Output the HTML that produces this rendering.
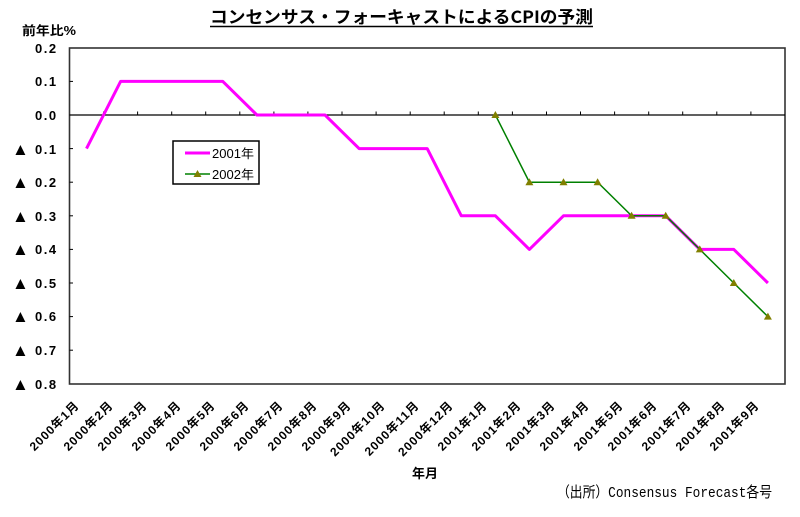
<!DOCTYPE html>
<html><head><meta charset="utf-8"><style>
html,body{margin:0;padding:0;background:#fff;}
svg{display:block;}
text{font-family:"Liberation Sans","Noto Sans CJK JP",sans-serif;fill:#000;}
</style></head><body>
<svg width="800" height="517" viewBox="0 0 800 517" xmlns="http://www.w3.org/2000/svg">
<rect width="800" height="517" fill="#fff"/>
<!-- title -->
<text x="210" y="23" font-size="17" font-weight="bold" textLength="383" lengthAdjust="spacingAndGlyphs" style="font-family:'Noto Sans CJK JP','Liberation Sans',sans-serif">コンセンサス・フォーキャストによるCPIの予測</text>
<line x1="210" y1="26.5" x2="593" y2="26.5" stroke="#000" stroke-width="1.5"/>
<text x="22" y="35" font-size="12.5" font-weight="bold" textLength="54" lengthAdjust="spacingAndGlyphs">前年比%</text>
<!-- plot border -->
<rect x="69.5" y="48" width="715.5" height="336" fill="none" stroke="#333" stroke-width="1.6"/>
<!-- zero line -->
<line x1="69.5" y1="115" x2="785" y2="115" stroke="#000" stroke-width="1.2"/>
<g stroke="#000" stroke-width="1">
<line x1="103.6" y1="111.5" x2="103.6" y2="115"/><line x1="137.6" y1="111.5" x2="137.6" y2="115"/><line x1="171.7" y1="111.5" x2="171.7" y2="115"/><line x1="205.7" y1="111.5" x2="205.7" y2="115"/><line x1="239.8" y1="111.5" x2="239.8" y2="115"/><line x1="273.9" y1="111.5" x2="273.9" y2="115"/><line x1="307.9" y1="111.5" x2="307.9" y2="115"/><line x1="342" y1="111.5" x2="342" y2="115"/><line x1="376.1" y1="111.5" x2="376.1" y2="115"/><line x1="410.2" y1="111.5" x2="410.2" y2="115"/><line x1="444.2" y1="111.5" x2="444.2" y2="115"/><line x1="478.3" y1="111.5" x2="478.3" y2="115"/><line x1="512.4" y1="111.5" x2="512.4" y2="115"/><line x1="546.5" y1="111.5" x2="546.5" y2="115"/><line x1="580.5" y1="111.5" x2="580.5" y2="115"/><line x1="614.6" y1="111.5" x2="614.6" y2="115"/><line x1="648.7" y1="111.5" x2="648.7" y2="115"/><line x1="682.7" y1="111.5" x2="682.7" y2="115"/><line x1="716.8" y1="111.5" x2="716.8" y2="115"/><line x1="750.9" y1="111.5" x2="750.9" y2="115"/>
<line x1="69.5" y1="81.4" x2="73" y2="81.4"/><line x1="69.5" y1="148.6" x2="73" y2="148.6"/><line x1="69.5" y1="182.2" x2="73" y2="182.2"/><line x1="69.5" y1="215.8" x2="73" y2="215.8"/><line x1="69.5" y1="249.4" x2="73" y2="249.4"/><line x1="69.5" y1="283" x2="73" y2="283"/><line x1="69.5" y1="316.6" x2="73" y2="316.6"/><line x1="69.5" y1="350.2" x2="73" y2="350.2"/>
</g>
<!-- y labels -->
<g font-size="13" font-weight="bold" letter-spacing="1.5">
<text x="35" y="53">0.2</text>
<text x="35" y="86">0.1</text>
<text x="35" y="120">0.0</text>
<text x="35" y="154">0.1</text>
<text x="35" y="187">0.2</text>
<text x="35" y="221">0.3</text>
<text x="35" y="254">0.4</text>
<text x="35" y="288">0.5</text>
<text x="35" y="321">0.6</text>
<text x="35" y="355">0.7</text>
<text x="35" y="389">0.8</text>
</g>
<g font-size="17" style="font-family:'DejaVu Sans',sans-serif">
<text x="12" y="155">▲</text>
<text x="12" y="188">▲</text>
<text x="12" y="222">▲</text>
<text x="12" y="255">▲</text>
<text x="12" y="289">▲</text>
<text x="12" y="322">▲</text>
<text x="12" y="356">▲</text>
<text x="12" y="390">▲</text>
</g>
<!-- series -->
<polyline fill="none" stroke="#FF00FF" stroke-width="3" stroke-linejoin="round" points="86.5,148.6 120.6,81.4 222.8,81.4 256.9,115 325,115 359.1,148.6 427.2,148.6 461.3,215.8 495.4,215.8 529.4,249.4 563.5,215.8 665.7,215.8 699.8,249.4 733.8,249.4 767.9,283"/>
<polyline fill="none" stroke="#008000" stroke-width="1.5" points="495.4,115 529.4,182.2 563.5,182.2 597.6,182.2 631.6,215.8 665.7,215.8 699.8,249.4 733.8,283 767.9,316.6"/>
<g fill="#808000">
<polygon points="495.4,111 491.4,118 499.4,118"/>
<polygon points="529.4,178.2 525.4,185.2 533.4,185.2"/>
<polygon points="563.5,178.2 559.5,185.2 567.5,185.2"/>
<polygon points="597.6,178.2 593.6,185.2 601.6,185.2"/>
<polygon points="631.6,211.8 627.6,218.8 635.6,218.8"/>
<polygon points="665.7,211.8 661.7,218.8 669.7,218.8"/>
<polygon points="699.8,245.4 695.8,252.4 703.8,252.4"/>
<polygon points="733.8,279 729.8,286 737.8,286"/>
<polygon points="767.9,312.6 763.9,319.6 771.9,319.6"/>
</g>
<!-- legend -->
<rect x="173" y="141" width="86" height="43" fill="#fff" stroke="#000" stroke-width="1.5"/>
<line x1="185" y1="153" x2="210" y2="153" stroke="#FF00FF" stroke-width="3"/>
<line x1="185" y1="174" x2="210" y2="174" stroke="#008000" stroke-width="1.5"/>
<polygon points="197.5,170 193.5,177 201.5,177" fill="#808000"/>
<text x="212" y="158" font-size="12.5" textLength="42" lengthAdjust="spacingAndGlyphs">2001年</text>
<text x="212" y="179" font-size="12.5" textLength="42" lengthAdjust="spacingAndGlyphs">2002年</text>
<!-- x labels -->
<g font-size="12" font-weight="bold" text-anchor="end" letter-spacing="1">
<text transform="translate(80,406) rotate(-45)">2000年1月</text>
<text transform="translate(114,406) rotate(-45)">2000年2月</text>
<text transform="translate(148,406) rotate(-45)">2000年3月</text>
<text transform="translate(182,406) rotate(-45)">2000年4月</text>
<text transform="translate(216,406) rotate(-45)">2000年5月</text>
<text transform="translate(250,406) rotate(-45)">2000年6月</text>
<text transform="translate(284,406) rotate(-45)">2000年7月</text>
<text transform="translate(318,406) rotate(-45)">2000年8月</text>
<text transform="translate(352,406) rotate(-45)">2000年9月</text>
<text transform="translate(386,406) rotate(-45)">2000年10月</text>
<text transform="translate(420,406) rotate(-45)">2000年11月</text>
<text transform="translate(454,406) rotate(-45)">2000年12月</text>
<text transform="translate(488,406) rotate(-45)">2001年1月</text>
<text transform="translate(522,406) rotate(-45)">2001年2月</text>
<text transform="translate(556,406) rotate(-45)">2001年3月</text>
<text transform="translate(590,406) rotate(-45)">2001年4月</text>
<text transform="translate(624,406) rotate(-45)">2001年5月</text>
<text transform="translate(658,406) rotate(-45)">2001年6月</text>
<text transform="translate(692,406) rotate(-45)">2001年7月</text>
<text transform="translate(726,406) rotate(-45)">2001年8月</text>
<text transform="translate(760,406) rotate(-45)">2001年9月</text>
</g>
<text x="412" y="478" font-size="13" font-weight="bold" textLength="26" lengthAdjust="spacingAndGlyphs">年月</text>
<text x="557" y="497" font-size="15" textLength="215" lengthAdjust="spacingAndGlyphs" style="font-family:'Liberation Mono','Noto Sans CJK JP',monospace">（出所）Consensus Forecast各号</text>
</svg>
</body></html>
